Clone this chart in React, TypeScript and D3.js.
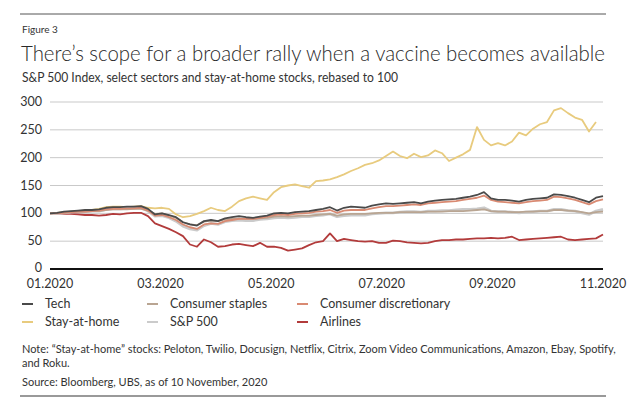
import React from "react";
import * as d3 from "d3";

const tickLabels = ["01.2020", "03.2020", "05.2020", "07.2020", "09.2020", "11.2020"];
const yTicks = [0, 50, 100, 150, 200, 250, 300];

const tech = [100,101,103,104,105,106,106,107,110,111,111,112,112,113,108,98,100,97,93,84,80,78,86,88,86,91,93,95,93,92,94,96,100,101,100,102,103,104,106,108,111,105,110,112,111,110,114,116,118,117,118,119,120,118,121,123,124,125,126,128,130,133,138,127,124,124,123,121,124,126,127,128,134,133,131,128,124,120,128,131];
const staples = [100,101,101,102,103,103,104,104,106,107,107,107,108,108,105,99,100,96,92,84,80,79,85,87,86,89,90,91,90,90,91,92,94,95,94,95,96,96,97,98,99,96,98,99,99,99,100,101,101,101,102,102,102,102,103,103,103,104,104,104,105,106,107,104,103,103,102,102,103,103,104,104,106,106,105,104,102,100,102,103];
const discretionary = [100,100,101,102,103,103,104,105,107,108,108,109,109,110,105,96,97,93,88,80,75,72,80,82,81,86,88,90,90,90,92,94,97,98,97,99,100,101,103,104,106,101,105,106,106,106,109,111,113,113,114,115,116,115,118,119,120,121,122,124,126,128,132,124,121,120,119,118,120,122,123,124,130,129,127,124,120,116,122,125];
const stayAtHome = [100,101,102,103,104,105,106,108,111,112,112,111,112,113,110,109,110,108,98,93,95,99,104,110,106,104,112,122,127,130,127,124,138,147,150,152,149,146,158,159,161,165,170,176,181,187,190,195,203,211,203,199,207,201,204,213,208,194,200,206,214,255,232,222,226,222,229,245,240,252,260,264,285,289,280,272,268,247,264];
const sp500 = [100,100,101,102,103,103,104,104,107,108,108,109,109,110,104,95,96,92,86,77,72,70,78,82,80,85,87,88,87,87,89,90,92,93,92,93,94,94,96,97,99,94,96,97,97,97,99,100,101,101,102,103,103,102,104,104,105,105,106,107,107,108,110,104,103,103,102,101,102,103,104,104,107,107,105,104,101,98,104,107];
const airlines = [100,100,99,99,98,97,97,96,97,99,98,100,101,101,95,82,77,72,66,59,44,40,53,48,40,41,44,45,43,41,47,40,40,38,33,35,37,43,48,50,64,50,54,52,50,49,50,47,47,51,50,48,47,46,47,50,52,52,53,53,54,55,55,56,55,56,58,52,53,54,55,56,57,58,53,52,53,54,55,62];

const seriesNames = ["Tech", "Consumer staples", "Consumer discretionary", "Stay-at-home", "S&P 500", "Airlines"];
const seriesColors = ["#4a4a4a", "#b9a592", "#d98a72", "#e8cb7e", "#cbcbcb", "#b23b3b"];
const seriesData = [tech, staples, discretionary, stayAtHome, sp500, airlines];
const drawOrder = [5, 3, 4, 1, 2, 0];

const FONT = "Lato, 'Open Sans', sans-serif";

export default function App() {
  const W = 630, H = 401;
  const left = 50, right = 603, top = 102, bottom = 269;
  const N = tech.length;
  const x = d3.scaleLinear().domain([0, N - 1]).range([left, right]);
  const xLab = d3.scalePoint<string>().domain(tickLabels).range([left, right]);
  const y = d3.scaleLinear().domain([0, 300]).range([bottom, top]);
  const line = d3.line<number>().x((_, i) => x(i)).y(d => y(d));

  const legendCols = [22, 147, 297];
  const legendRows = [304, 322];

  return (
    <svg width={W} height={H} style={{ position: "absolute", left: 0, top: 0, background: "#fff" }} fontFamily={FONT}>
      <line x1={20} x2={606} y1={14} y2={14} stroke="#555" strokeWidth={1} />
      <text x={22} y={33} fontSize={10} fill="#333">Figure 3</text>
      <text x={21} y={61} fontSize={21} fill="#2a2a2a" fontWeight={300} textLength={584} lengthAdjust="spacingAndGlyphs">There’s scope for a broader rally when a vaccine becomes available</text>
      <text x={22} y={82} fontSize={12.5} fill="#333" textLength={376} lengthAdjust="spacingAndGlyphs">S&amp;P 500 Index, select sectors and stay-at-home stocks, rebased to 100</text>

      {yTicks.filter(t => t > 0).map(t => (
        <line key={t} x1={left} x2={right} y1={y(t)} y2={y(t)} stroke="#c9c9c9" strokeWidth={1} />
      ))}
      {yTicks.map(t => (
        <text key={t} x={42} y={y(t) + (t === 0 ? 3 : 4)} fontSize={12.5} fill="#333" textAnchor="end">{t}</text>
      ))}

      {drawOrder.map(k => (
        <path key={k} d={line(seriesData[k]) || ""} fill="none" stroke={seriesColors[k]}
          strokeWidth={k === 4 ? 2.8 : 1.8} strokeLinejoin="round" />
      ))}

      <line x1={left} x2={right} y1={y(0)} y2={y(0)} stroke="#111" strokeWidth={2} />
      {tickLabels.map(t => (
        <text key={t} x={xLab(t)} y={288} fontSize={12.5} fill="#333" textAnchor="middle">{t}</text>
      ))}

      {seriesNames.map((n, i) => {
        const cx = legendCols[i % 3];
        const cy = legendRows[Math.floor(i / 3)];
        return (
          <g key={n}>
            <line x1={cx} x2={cx + 11} y1={cy} y2={cy} stroke={seriesColors[i]} strokeWidth={2} />
            <text x={cx + 23} y={cy + 4} fontSize={12.5} fill="#333">{n}</text>
          </g>
        );
      })}

      <text x={22} y={353} fontSize={11} fill="#333">Note: “Stay-at-home” stocks: Peloton, Twilio, Docusign, Netflix, Citrix, Zoom Video Communications, Amazon, Ebay, Spotify,</text>
      <text x={22} y={367} fontSize={11} fill="#333">and Roku.</text>
      <text x={22} y={386} fontSize={11} fill="#333">Source: Bloomberg, UBS, as of 10 November, 2020</text>
      <line x1={20} x2={606} y1={396} y2={396} stroke="#999" strokeWidth={2} />
    </svg>
  );
}
